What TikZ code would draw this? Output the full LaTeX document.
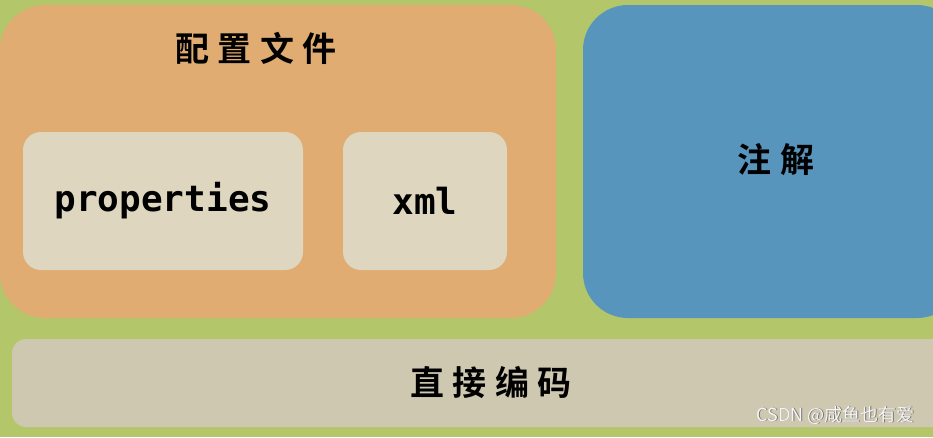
\documentclass[tikz,border=0pt]{standalone}
\usepackage{fontspec}
\newfontfamily\cjk[LetterSpace=24,BoldFont={Noto Sans CJK SC Bold}]{Noto Sans CJK SC}
\newfontfamily\cjkmark{Noto Sans CJK SC}
\newfontfamily\codefont{DejaVu Sans Mono}
\usetikzlibrary{positioning}
\definecolor{bggreen}{HTML}{B3C66A}
\definecolor{cfgorange}{HTML}{E0AC71}
\definecolor{annoblue}{HTML}{5895BD}
\definecolor{itemcream}{HTML}{DED6BE}
\definecolor{codegray}{HTML}{CFC8B0}
\tikzset{
  block/.style={rectangle,rounded corners=45pt,inner sep=0pt},
  item/.style={rectangle,rounded corners=18pt,fill=itemcream,inner sep=0pt,
    minimum height=138pt,font=\codefont\bfseries\fontsize{36}{40}\selectfont},
  title/.style={font=\cjk\bfseries\fontsize{34}{38}\selectfont,text=black}
}
\begin{document}
\begin{tikzpicture}[x=1pt,y=-1pt]
  \useasboundingbox (0,0) rectangle (933,437);
  \clip (0,0) rectangle (933,437);
  \fill[bggreen] (0,0) rectangle (933,437);

  \node[block,fill=cfgorange,minimum width=556pt,minimum height=313pt] (config) at (278,161.5) {};
  \node[block,fill=annoblue,minimum width=379pt,minimum height=313pt] (anno) at (772.5,161.5) {};
  \node[block,rounded corners=14pt,fill=codegray,minimum width=950pt,minimum height=88pt] (code) at (487,383) {};

  \node[title] (cfgtitle) at (256,48) {配置文件};
  \node[item,minimum width=280pt] (prop) at (163,201) {properties};
  \node[item,minimum width=164pt] (xml) at (425,201) {xml};
  \node[title] at (776,160) {注解};
  \node[title] at (491,382) {直接编码};

  % watermark
  \node[font=\cjkmark\fontsize{18}{20}\selectfont,text=black!55,anchor=east] (markshadow) at (918.8,415.8) {CSDN @咸鱼也有爱};
  \node[font=\cjkmark\fontsize{18}{20}\selectfont,text=white!92!gray,anchor=east] (mark) at (918,415) {CSDN @咸鱼也有爱};
\end{tikzpicture}
\end{document}
